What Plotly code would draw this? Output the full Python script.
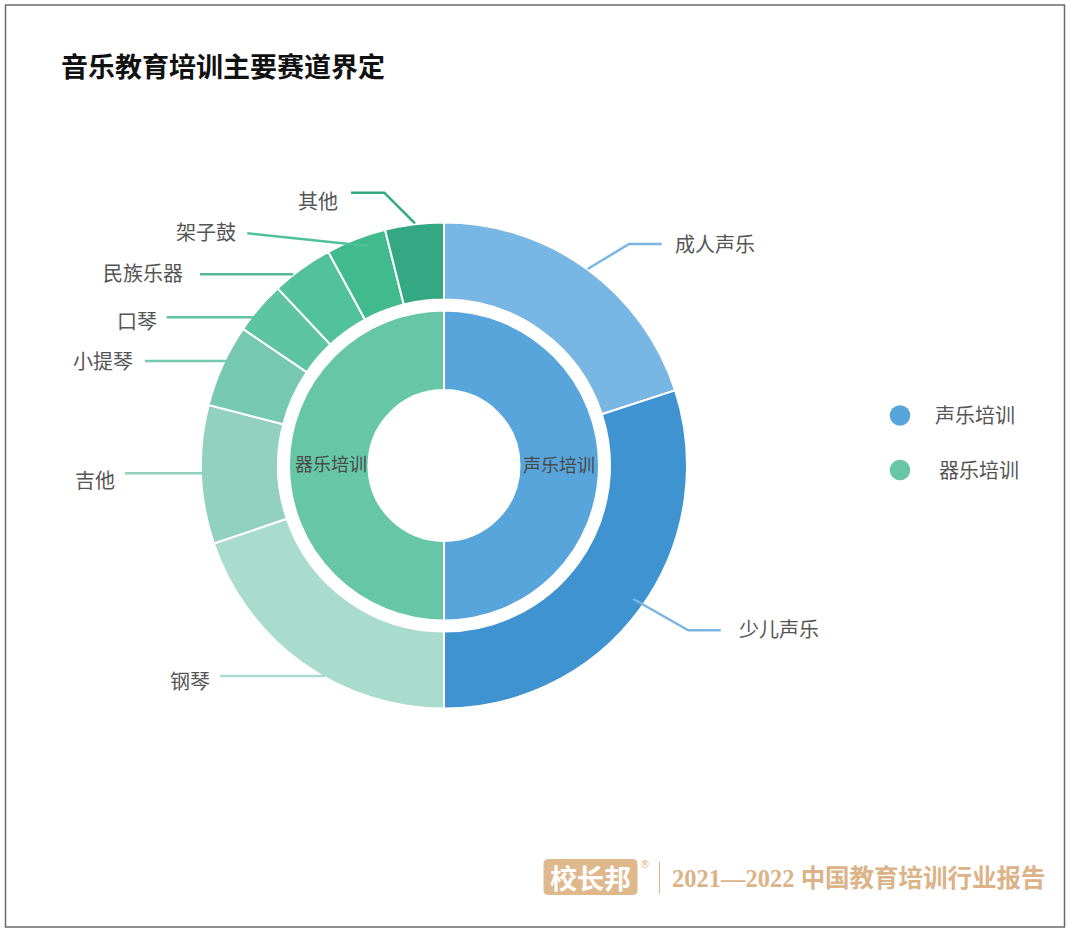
import plotly.graph_objects as go

W, H = 1072, 932

# ---------------- data ----------------
inner_labels = ["声乐培训", "器乐培训"]
inner_values = [50, 50]
inner_colors = ["#58a5dc", "#66c6a6"]

outer_labels = ["成人声乐", "少儿声乐", "钢琴", "吉他", "小提琴", "口琴", "民族乐器", "架子鼓", "其他"]
outer_values = [20.0, 30.0, 19.8, 9.2, 5.5, 3.5, 4.1, 4.0, 3.9]
outer_colors = ["#78b7e4", "#3f93d0", "#a9dccd", "#92d1bf", "#76c8b0",
                "#5ec4a2", "#52c29c", "#41bb8d", "#33a882"]

title_text = "音乐教育培训主要赛道界定"
footer_text = "2021—2022 中国教育培训行业报告"
logo_text = "校长邦"

# ---------------- layout helpers ----------------
CX, CY = 444, 465.5
R_OUT, R_OUT_IN = 243, 166
R_IN, R_IN_HOLE = 155, 75.5


def px(x):
    return x / W


def py(y):
    return 1 - y / H


FONT = "Noto Sans CJK SC, Noto Sans, sans-serif"

fig = go.Figure()

fig.add_trace(go.Pie(
    labels=outer_labels, values=outer_values,
    marker=dict(colors=outer_colors, line=dict(color="white", width=2)),
    hole=R_OUT_IN / R_OUT, sort=False, direction="clockwise", rotation=0,
    textinfo="none", showlegend=False,
    domain=dict(x=[px(CX - R_OUT), px(CX + R_OUT)], y=[py(CY + R_OUT), py(CY - R_OUT)]),
))
fig.add_trace(go.Pie(
    labels=inner_labels, values=inner_values,
    marker=dict(colors=inner_colors, line=dict(color="white", width=2)),
    hole=R_IN_HOLE / R_IN, sort=False, direction="clockwise", rotation=0,
    textinfo="none", showlegend=False,
    domain=dict(x=[px(CX - R_IN), px(CX + R_IN)], y=[py(CY + R_IN), py(CY - R_IN)]),
))

# label placement (pixel layout): text anchor point, side, leader polyline, leader colour
label_layout = {
    "成人声乐": dict(tx=673, ty=244, side="left", lc="#78b7e4",
                 line=[(661.7, 244), (629, 244), (587.7, 269)]),
    "少儿声乐": dict(tx=737, ty=628, side="left", lc="#7ab6e2",
                 line=[(720.7, 630.3), (688.3, 630.3), (633.3, 599)]),
    "钢琴": dict(tx=212, ty=680, side="right", lc="#a9dccd", line=[(220, 676), (325, 676)]),
    "吉他": dict(tx=117, ty=479, side="right", lc="#92d1bf", line=[(125, 473.3), (225, 473.3)]),
    "小提琴": dict(tx=135, ty=360, side="right", lc="#76c8b0", line=[(145, 361), (253.3, 361)]),
    "口琴": dict(tx=159, ty=320, side="right", lc="#5ec4a2", line=[(166.7, 317.3), (276.7, 317.3)]),
    "民族乐器": dict(tx=185, ty=272.5, side="right", lc="#58b896", line=[(200, 274.3), (293.3, 274.3)]),
    "架子鼓": dict(tx=237.5, ty=231.5, side="right", lc="#4fc29c", line=[(247.3, 233.3), (368.3, 246)]),
    "其他": dict(tx=340, ty=201, side="right", lc="#33a882",
               line=[(351, 192.7), (384.3, 192.7), (415, 223.3)]),
}

shapes = []
annotations = []

for lab in outer_labels:
    L = label_layout[lab]
    pts = L["line"]
    path = "M " + " L ".join(f"{px(x)},{py(y)}" for x, y in pts)
    shapes.append(dict(type="path", xref="paper", yref="paper", path=path,
                       line=dict(color=L["lc"], width=2.5), layer="above"))
    annotations.append(dict(
        x=px(L["tx"]), y=py(L["ty"]), xref="paper", yref="paper",
        text=lab, showarrow=False,
        xanchor="left" if L["side"] == "left" else "right", yanchor="middle",
        font=dict(family=FONT, size=20, color="#555555"),
    ))

# inner ring labels
inner_pos = {"器乐培训": (292.5, 463.5, "left"), "声乐培训": (597, 464, "right")}
for lab in inner_labels:
    x, y, anc = inner_pos[lab]
    annotations.append(dict(
        x=px(x), y=py(y), xref="paper", yref="paper", text=lab, showarrow=False,
        xanchor=anc, yanchor="middle",
        font=dict(family=FONT, size=18, color="#4a4a4a"),
    ))

# legend
legend_pos = [(900, 415.5, 933), (900, 470, 937)]
for (lx, ly, tx), lab, col in zip(legend_pos, inner_labels, inner_colors):
    shapes.append(dict(type="circle", xref="paper", yref="paper",
                       x0=px(lx - 10.3), x1=px(lx + 10.3), y0=py(ly + 10.3), y1=py(ly - 10.3),
                       fillcolor=col, line=dict(width=0)))
    annotations.append(dict(
        x=px(tx), y=py(ly - 1), xref="paper", yref="paper", text=lab, showarrow=False,
        xanchor="left", yanchor="middle",
        font=dict(family=FONT, size=20, color="#555555"),
    ))

# title
annotations.append(dict(
    x=px(59), y=py(65), xref="paper", yref="paper", text="<b>" + title_text + "</b>",
    showarrow=False, xanchor="left", yanchor="middle",
    font=dict(family=FONT, size=27, color="#111111"),
))

# outer frame
shapes.append(dict(type="rect", xref="paper", yref="paper",
                   x0=px(5.5), x1=px(1064.5), y0=py(927), y1=py(5),
                   line=dict(color="#6a6a6a", width=1.5)))

# footer watermark
TAN = "#dcb387"
x0, x1, y0, y1, r = 543.5, 637.5, 859, 895, 5
rpath = (f"M {px(x0 + r)},{py(y0)} L {px(x1 - r)},{py(y0)} "
         f"Q {px(x1)},{py(y0)} {px(x1)},{py(y0 + r)} L {px(x1)},{py(y1 - r)} "
         f"Q {px(x1)},{py(y1)} {px(x1 - r)},{py(y1)} L {px(x0 + r)},{py(y1)} "
         f"Q {px(x0)},{py(y1)} {px(x0)},{py(y1 - r)} L {px(x0)},{py(y0 + r)} "
         f"Q {px(x0)},{py(y0)} {px(x0 + r)},{py(y0)} Z")
shapes.append(dict(type="path", xref="paper", yref="paper", path=rpath,
                   fillcolor="#dfb88e", line=dict(width=0)))
shapes.append(dict(type="line", xref="paper", yref="paper",
                   x0=px(659.5), x1=px(659.5), y0=py(861.5), y1=py(893.5),
                   line=dict(color=TAN, width=1)))
annotations.append(dict(
    x=px(590.5), y=py(877.5), xref="paper", yref="paper", text="<b>" + logo_text + "</b>",
    showarrow=False, xanchor="center", yanchor="middle",
    font=dict(family=FONT, size=27, color="white"),
))
annotations.append(dict(
    x=px(644.5), y=py(864.5), xref="paper", yref="paper", text="®",
    showarrow=False, xanchor="center", yanchor="middle",
    font=dict(family="DejaVu Sans", size=10, color=TAN),
))
annotations.append(dict(
    x=px(670), y=py(877.5), xref="paper", yref="paper", text="<b>" + footer_text + "</b>",
    showarrow=False, xanchor="left", yanchor="middle",
    font=dict(family="Liberation Serif, Noto Sans CJK SC, serif", size=24.5, color=TAN),
))

fig.update_layout(
    width=W, height=H, margin=dict(l=0, r=0, t=0, b=0, pad=0),
    paper_bgcolor="white", plot_bgcolor="white",
    shapes=shapes, annotations=annotations, showlegend=False,
)

fig.write_html("out.html")
